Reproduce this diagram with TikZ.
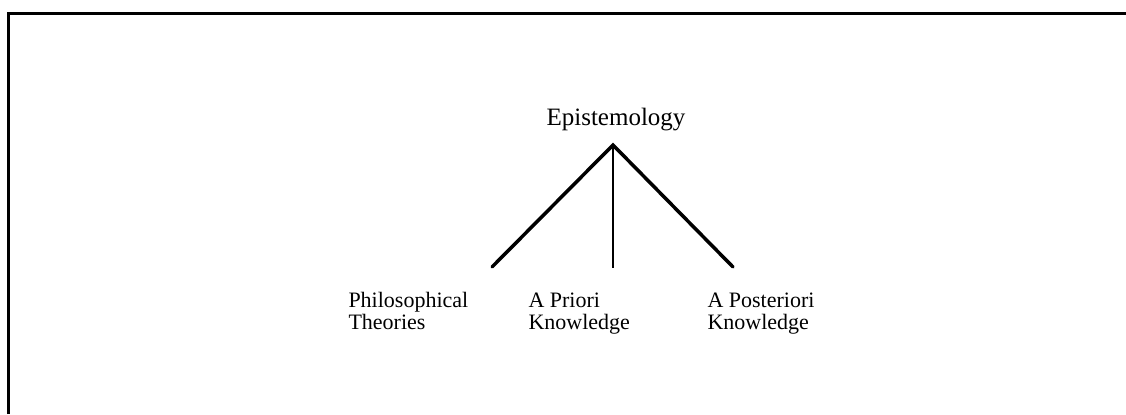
\documentclass[tikz,border=0pt]{standalone}
\usepackage{fontspec}
\setmainfont{Liberation Serif}
\usetikzlibrary{positioning}

\begin{document}
\begin{tikzpicture}[
  x=0.4pt, y=-0.4pt,
  root/.style={font=\fontsize{10}{12}\selectfont, inner sep=0pt, anchor=base},
  leaf/.style={font=\fontsize{8.8}{8.8}\selectfont, align=left, inner sep=0pt, anchor=north west},
  branch/.style={line width=1.4pt, line cap=round},
  frame/.style={line width=1.2pt}
]
\useasboundingbox (0,0) rectangle (1126,414);

% frame (cut at the right and bottom)
\draw[frame] (8,414) -- (8,13) -- (1126,13);

\node[root] (epi) at (616,125) {Epistemology};
\coordinate (apex) at (613,145);

\coordinate (lft) at (492,267);
\coordinate (mid) at (613,268);
\coordinate (rgt) at (733,267);

\node[leaf] (phil) at (348,292) {Philosophical\\Theories};
\node[leaf] (prio) at (528,292) {A Priori\\Knowledge};
\node[leaf] (post) at (707,292) {A Posteriori\\Knowledge};

\draw[branch] (lft) -- (apex) -- (rgt);
\draw[branch, line width=1pt, line cap=butt] (apex) -- (mid);

\end{tikzpicture}
\end{document}
